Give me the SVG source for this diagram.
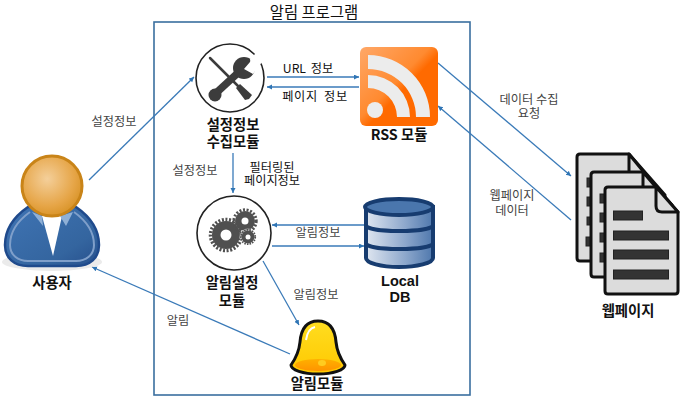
<svg xmlns="http://www.w3.org/2000/svg" width="680" height="401" viewBox="0 0 680 401">
<style>
text{font-family:"Noto Sans CJK KR","Liberation Sans",sans-serif;text-anchor:middle}
.b{font-weight:700;font-size:14.3px;fill:#111}
.e{font-family:"Liberation Sans",sans-serif;font-weight:700;font-size:14.5px;fill:#111}
.l{font-size:12.2px;fill:#444}
.k{font-size:12.2px;fill:#111}
.c{stroke:#3a7ab8;stroke-width:1.3;fill:none;marker-end:url(#a)}
.ci{fill:#fff;stroke:#222;stroke-width:1.6}
.page{fill:#dcdcdc;stroke:#111;stroke-width:3;stroke-linejoin:round}
.bar{fill:#333;stroke:#222}
.gb{fill:#505050}
.gt{fill:none;stroke:#505050}
</style>
<defs>
<marker id="a" markerWidth="6" markerHeight="6" refX="5" refY="2.500" orient="auto" markerUnits="userSpaceOnUse"><path d="M0 0L5 2.500L0 5z" fill="#2f75b5"/></marker>
<radialGradient id="head" cx=".42" cy=".38" r=".65"><stop offset="0" stop-color="#f4cf9a"/><stop offset=".7" stop-color="#e6a547"/><stop offset="1" stop-color="#d89327"/></radialGradient>
<linearGradient id="body" x1="0" y1="0" x2="1" y2="1"><stop offset="0" stop-color="#3f74b4"/><stop offset=".7" stop-color="#34659f"/><stop offset="1" stop-color="#264f8c"/></linearGradient>
<linearGradient id="rss" x1="0" y1="0" x2="1" y2="1"><stop offset="0" stop-color="#ffa868"/><stop offset=".45" stop-color="#ff8a30"/><stop offset=".55" stop-color="#ff6a00"/><stop offset="1" stop-color="#ff6a00"/></linearGradient>
<linearGradient id="db" x1="0" y1="0" x2="1" y2="0"><stop offset="0" stop-color="#dfe6f0"/><stop offset=".6" stop-color="#8ba6cb"/><stop offset="1" stop-color="#4f78ad"/></linearGradient>
<linearGradient id="bell" x1="0" y1="0" x2="0" y2="1"><stop offset="0" stop-color="#ffdd20"/><stop offset="1" stop-color="#ffc800"/></linearGradient>
<linearGradient id="bin" x1="0" y1="0" x2="0" y2="1"><stop offset="0" stop-color="#ffb000"/><stop offset="1" stop-color="#ff9400"/></linearGradient>
</defs>
<rect x="154" y="22" width="316" height="373" fill="none" stroke="#3a6f9f" stroke-width="1.6"/>
<text x="314" y="18" font-size="15.400" fill="#111">알림 프로그램</text>

<g id="connectors">
<path class="c" d="M89 180L194 77"/>
<path class="c" d="M267 77H359"/>
<path class="c" d="M359 87H267"/>
<path class="c" d="M233 153V193"/>
<path class="c" d="M364 225H272"/>
<path class="c" d="M272 246H364"/>
<path class="c" d="M263 261L299 325"/>
<path class="c" d="M290 354L92 267"/>
<path class="c" d="M438 63L571 176"/>
<path class="c" d="M571 220L438 106"/>
<text class="l" x="114" y="126">설정정보</text>
<text class="k" x="308" y="73" style="word-spacing:2px">URL 정보</text>
<text class="k" x="315" y="101" style="letter-spacing:.6px;word-spacing:3px">페이지 정보</text>
<text class="l" x="195" y="175">설정정보</text>
<text class="k" x="272" y="172"><tspan x="272">필터링된</tspan><tspan x="272" dy="13">페이지정보</tspan></text>
<text class="l" x="318" y="237">알림정보</text>
<text class="l" x="316" y="299">알림정보</text>
<text class="l" x="178" y="325">알림</text>
<text class="l" x="529" y="104"><tspan x="529">데이터 수집</tspan><tspan x="529" dy="14">요청</tspan></text>
<text class="l" x="512" y="200"><tspan x="512">웹페이지</tspan><tspan x="512" dy="15">데이터</tspan></text>
</g>

<g id="user">
<ellipse cx="52" cy="262" rx="50" ry="9" fill="#ddd" opacity=".6"/>
<path d="M28 207C12 218 5 232 5 245C5 258 14 266 28 266H76C90 266 99 258 99 245C99 232 92 218 76 207Z" fill="url(#body)" stroke="#1f4a8c" stroke-width="2.500"/>
<path d="M30 212C16 222 10 234 10 245C10 255 18 261 28 261H76C86 261 94 255 94 245C94 234 88 222 74 212" fill="none" stroke="#7f9fca" stroke-width="2"/>
<path d="M42 216L53 256L62 216Z" fill="#fff"/>
<path d="M32 212L43 226L42 216ZM73 212L66 226L60 216Z" fill="#8fb0d6"/>
<circle cx="52" cy="186" r="30" fill="url(#head)" stroke="#c98418" stroke-width="3"/>
<text class="b" x="52" y="288">사용자</text>
</g>

<g id="settings">
<circle class="ci" cx="230" cy="78" r="34"/>
<path d="M210 58L238 86" stroke="#3c3c3c" stroke-width="2.500" stroke-linecap="round"/>
<path d="M236 88L240 84L252 95L249 99L245 100Z" fill="#3c3c3c"/>
<path d="M215 94L240 71" stroke="#3c3c3c" stroke-width="7.500"/>
<circle cx="215" cy="95" r="6.500" fill="#3c3c3c"/>
<circle cx="244" cy="68" r="11" fill="#3c3c3c"/>
<path d="M244 69L250 62L256 52L262 62L253 74Z" fill="#fff"/>
<path d="M250 59L254 56L258 62L255 70L252 72Z" fill="#fff"/>
<text class="b" x="233" y="130"><tspan x="233">설정정보</tspan><tspan x="233" dy="17">수집모듈</tspan></text>
</g>

<g id="rss-module">
<rect x="360" y="47" width="78" height="79" rx="6" fill="url(#rss)"/>
<circle cx="375" cy="110" r="8" fill="#ececec"/>
<path d="M368 75V88A29 29 0 0 1 397 117H410A42 42 0 0 0 368 75Z" fill="#ececec"/>
<path d="M368 55V69A48 48 0 0 1 416 117H430A62 62 0 0 0 368 55Z" fill="#ececec"/>
<text class="b" x="399" y="140">RSS 모듈</text>
</g>

<g id="alarm-config">
<circle class="ci" cx="234" cy="233" r="37"/>
<circle class="gb" cx="226" cy="235" r="14"/>
<circle class="gt" cx="226" cy="235" r="15.500" stroke-width="3.500" stroke-dasharray="2 1.600"/>
<circle class="gb" cx="245" cy="221" r="10"/>
<circle class="gt" cx="245" cy="221" r="11.200" stroke-width="3" stroke-dasharray="2 1.600"/>
<circle cx="248" cy="237" r="8.500" fill="#fff" opacity=".5"/>
<circle class="gb" cx="248" cy="237" r="6.500"/>
<circle class="gt" cx="248" cy="237" r="7.200" stroke-width="1.800" stroke-dasharray="1.500 1.200"/>
<circle cx="226" cy="235" r="5.500" fill="#fff"/>
<circle cx="245" cy="221" r="3.500" fill="#fff"/>
<circle cx="248" cy="237" r="2.500" fill="#fff"/>
<text class="b" x="232" y="288"><tspan x="232">알림설정</tspan><tspan x="232" dy="18">모듈</tspan></text>
</g>

<g id="local-db">
<path d="M366 207V258C366 263 381 267 399 267C417 267 433 263 433 258V207Z" fill="url(#db)" stroke="#173c70" stroke-width="4"/>
<ellipse cx="399" cy="207" rx="34" ry="8" fill="#4a76ad" stroke="#173c70" stroke-width="4"/>
<path d="M366 225C366 229 381 231 399 231C417 231 433 229 433 225M366 243C366 247 381 249 399 249C417 249 433 247 433 243" fill="none" stroke="#173c70" stroke-width="4"/>
<text class="e" x="400" y="286">Local</text>
<text class="e" x="400" y="302">DB</text>
</g>

<g id="alarm-module">
<path d="M318 321C306 321 301 330 300 342C299 352 296 358 291 365C291 370 303 374 318 374C333 374 345 370 345 365C340 358 337 352 336 342C335 330 330 321 318 321Z" fill="url(#bell)" stroke="#111" stroke-width="3" stroke-linejoin="round"/>
<ellipse cx="318" cy="365" rx="23" ry="6" fill="url(#bin)"/>
<ellipse cx="322" cy="363" rx="4" ry="3" fill="#ffcc20"/>
<path d="M306 340C307 333 310 328 315 327" fill="none" stroke="#fff" stroke-width="2"/>
<text class="b" x="317" y="389">알림모듈</text>
</g>

<g id="webpages">
<path class="page" d="M580 154H629L665 195V258Q665 261 662 261H580Q577 261 577 258V157Q577 154 580 154Z"/>
<path class="page" d="M629 154V172Q629 176 634 176H647Z"/>
<rect class="bar" x="587" y="178" width="6" height="9"/>
<rect class="bar" x="587" y="197" width="6" height="9"/>
<rect class="bar" x="587" y="217" width="6" height="8"/>
<rect class="bar" x="586" y="237" width="6" height="9"/>
<path class="page" d="M594 172H643L672 205V274Q672 277 669 277H594Q591 277 591 274V175Q591 172 594 172Z"/>
<path class="page" d="M643 172V188Q643 192 648 192H660Z"/>
<rect class="bar" x="600" y="194" width="6" height="9"/>
<rect class="bar" x="600" y="213" width="6" height="9"/>
<rect class="bar" x="600" y="233" width="6" height="9"/>
<rect class="bar" x="600" y="253" width="6" height="9"/>
<path class="page" d="M608 187H656L678 212V291Q678 294 675 294H608Q605 294 605 291V190Q605 187 608 187Z"/>
<path class="page" d="M656 187V206Q656 212 662 212H678Z"/>
<rect class="bar" x="613.500" y="211" width="29" height="9"/>
<rect class="bar" x="613.500" y="231" width="55" height="9"/>
<rect class="bar" x="613.500" y="250" width="55" height="9"/>
<rect class="bar" x="613.500" y="270" width="55" height="9"/>
<text class="b" x="628" y="316">웹페이지</text>
</g>
</svg>
